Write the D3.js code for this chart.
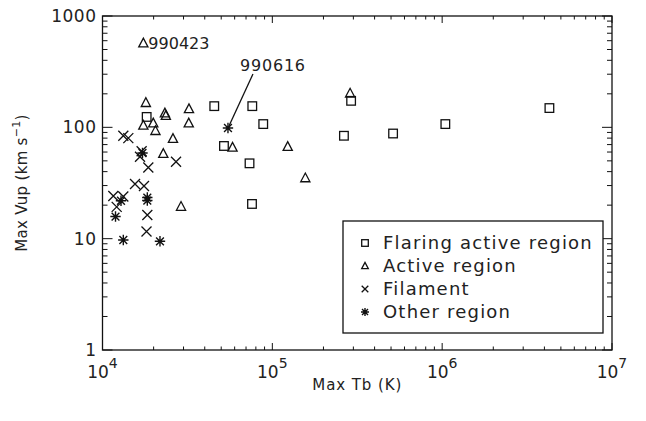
<!DOCTYPE html>
<html><head><meta charset="utf-8">
<script src="https://cdn.jsdelivr.net/npm/d3@7"></script>
<style>
html,body{margin:0;padding:0;background:#fff;}
svg{display:block;}
text{font-family:"DejaVu Sans",sans-serif;fill:#222;}
</style></head>
<body><svg id="c" width="646" height="421"></svg>
<script>
// Flaring active region (squares): [Max Tb (K), Max Vup (km/s)]
const flaring = [[1.82e4,124],[4.55e4,155],[7.62e4,155],[8.84e4,107],[5.19e4,68],[7.34e4,47.5],[7.59e4,20.5],[2.64e5,84],[2.91e5,173],[5.14e5,88],[1.044e6,107],[4.28e6,149]];
// Active region (triangles)
const active = [[1.74e4,569],[1.80e4,166],[1.74e4,104],[1.99e4,109],[2.05e4,93],[2.33e4,134],[2.36e4,127],[3.23e4,146],[3.22e4,109],[2.60e4,79],[2.28e4,58],[2.90e4,19.4],[5.83e4,66],[1.232e5,67],[1.564e5,35],[2.87e5,202]];
// Filament (crosses)
const filament = [[1.326e4,84],[1.419e4,80],[1.70e4,61],[1.663e4,54.5],[1.861e4,43.6],[2.71e4,49],[1.554e4,31],[1.755e4,29.7],[1.158e4,24.2],[1.326e4,23.9],[1.212e4,19.3],[1.836e4,16.3],[1.816e4,11.6]];
// Other region (asterisks)
const other = [[5.48e4,98.6],[1.72e4,58.8],[1.285e4,21.9],[1.836e4,23.4],[1.836e4,22.0],[1.193e4,15.8],[1.326e4,9.73],[2.18e4,9.47]];
const legendLabels = ["Flaring active region","Active region","Filament","Other region"];
const xTicks = [1e4,1e5,1e6,1e7];
const yTicks = [1,10,100,1000];
const labeled = [{pt:[1.74e4,569], text:"990423"},{pt:[5.48e4,98.6], text:"990616"}];

const svg = d3.select("#c");
const L=102.5, R=612, T=16, B=350;
const x = d3.scaleLog().domain([1e4,1e7]).range([L,R]);
const y = d3.scaleLog().domain([1,1000]).range([B,T]);
const stroke="#111";

// frame
svg.append("rect").attr("x",L).attr("y",T).attr("width",R-L).attr("height",B-T)
  .attr("fill","none").attr("stroke",stroke).attr("stroke-width",1.3);

// ticks
function minorVals(dom){const v=[];for(let e=Math.log10(dom[0]);e<Math.log10(dom[1]);e++){for(let k=1;k<10;k++)v.push(k*Math.pow(10,e));}v.push(dom[1]);return v;}
const g = svg.append("g").attr("stroke",stroke).attr("stroke-width",1);
minorVals(x.domain()).forEach(v=>{
  const major = xTicks.includes(v);
  const len = major?7:3.5;
  const px=x(v);
  g.append("line").attr("x1",px).attr("x2",px).attr("y1",B).attr("y2",B-len);
  g.append("line").attr("x1",px).attr("x2",px).attr("y1",T).attr("y2",T+len);
});
minorVals(y.domain()).forEach(v=>{
  const major = yTicks.includes(v);
  const len = major?10:5;
  const py=y(v);
  g.append("line").attr("y1",py).attr("y2",py).attr("x1",L).attr("x2",L+len);
  g.append("line").attr("y1",py).attr("y2",py).attr("x1",R).attr("x2",R-len);
});

// tick labels
yTicks.forEach(v=>{
  svg.append("text").attr("x",L-6).attr("y",y(v)+6).attr("text-anchor","end")
    .attr("font-size",17).attr("letter-spacing",0.5).text(String(v));
});
xTicks.forEach(v=>{
  const t=svg.append("text").attr("x",x(v)).attr("y",B+28).attr("text-anchor","middle").attr("font-size",17);
  t.append("tspan").text("10");
  t.append("tspan").attr("dy",-10).attr("font-size",14).text(String(Math.round(Math.log10(v))));
});

// axis titles
svg.append("text").attr("x",(L+R)/2).attr("y",390).attr("text-anchor","middle").attr("font-size",15).attr("letter-spacing",0.9).text("Max Tb (K)");
const yt=svg.append("text").attr("transform","translate(27,"+((T+B)/2)+") rotate(-90)").attr("text-anchor","middle").attr("font-size",15).attr("letter-spacing",0.3);
yt.append("tspan").text("Max Vup (km s");
yt.append("tspan").attr("dy",-7).attr("font-size",11).text("−1");
yt.append("tspan").attr("dy",7).text(")");

// marker shapes
function drawMarker(sel, type, cx, cy, s){
  const gg = sel.append("g").attr("transform",`translate(${cx},${cy})`).attr("fill","none").attr("stroke",stroke).attr("stroke-width",1.3);
  if(type===0){ gg.append("rect").attr("x",-s).attr("y",-s).attr("width",2*s).attr("height",2*s); }
  else if(type===1){ gg.append("path").attr("d",`M${-s},${s*0.8}L${s},${s*0.8}L0,${-s*1.1}Z`); }
  else if(type===2){ gg.append("path").attr("d",`M${-s},${-s}L${s},${s}M${-s},${s}L${s},${-s}`); }
  else { const a=s*0.75; gg.append("path").attr("d",`M${-a},${-a}L${a},${a}M${-a},${a}L${a},${-a}M0,${-s}L0,${s}M${-s},0L${s},0`).attr("stroke-width",1.4); }
}
const series=[flaring,active,filament,other];
const sizes=[4.3,4.6,5,5.2];
series.forEach((d,i)=>{
  const sg=svg.append("g");
  d.forEach(p=>drawMarker(sg,i,x(p[0]),y(p[1]),sizes[i]));
});

// annotations
svg.append("text").attr("x",x(labeled[0].pt[0])+5).attr("y",y(labeled[0].pt[1])+6)
  .attr("font-family","DejaVu Sans Mono, monospace").attr("font-size",16).text(labeled[0].text);
const p2=labeled[1].pt;
svg.append("line").attr("x1",x(p2[0])+1).attr("y1",y(p2[1])-2).attr("x2",x(p2[0])+25).attr("y2",y(p2[1])-54)
  .attr("stroke",stroke).attr("stroke-width",1.3);
svg.append("text").attr("x",x(p2[0])+12).attr("y",y(p2[1])-57)
  .attr("font-family","DejaVu Sans Mono, monospace").attr("font-size",16).attr("letter-spacing",0.8).text(labeled[1].text);

// legend
const lg=svg.append("g");
lg.append("rect").attr("x",343).attr("y",221).attr("width",260).attr("height",112).attr("fill","#fff").attr("stroke",stroke).attr("stroke-width",1.3);
legendLabels.forEach((lab,i)=>{
  const cy=243+i*23;
  drawMarker(lg,i,365,cy,i===3?4:3.3);
  lg.append("text").attr("x",383).attr("y",cy+6).attr("font-size",18).attr("letter-spacing",1.2).text(lab);
});
</script></body></html>
